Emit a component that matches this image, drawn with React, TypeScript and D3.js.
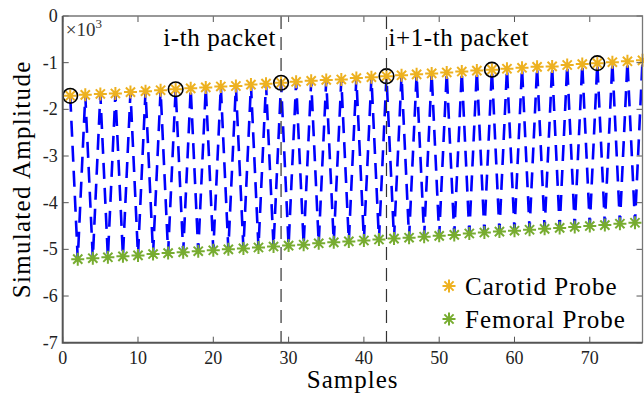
import { useRef, useEffect } from "react";
import * as d3 from "d3";

// carotid probe samples (odd sample numbers 1..77), values in x10^3
const carotid = [
  -1.71, -1.69, -1.67, -1.66, -1.63, -1.61, -1.59, -1.57, -1.55, -1.53,
  -1.51, -1.5, -1.47, -1.45, -1.43, -1.41, -1.39, -1.37, -1.36, -1.33,
  -1.31, -1.29, -1.27, -1.25, -1.23, -1.21, -1.19, -1.17, -1.15, -1.13,
  -1.11, -1.09, -1.08, -1.05, -1.03, -1.01, -0.99, -0.97, -0.95,
];
// femoral probe samples (even sample numbers 2..76)
const femoral = [
  -5.21, -5.19, -5.17, -5.15, -5.13, -5.1, -5.08, -5.06, -5.04, -5.02,
  -5.0, -4.98, -4.96, -4.94, -4.92, -4.9, -4.87, -4.85, -4.83, -4.81,
  -4.79, -4.77, -4.75, -4.73, -4.71, -4.69, -4.66, -4.64, -4.62, -4.6,
  -4.58, -4.56, -4.54, -4.52, -4.5, -4.48, -4.45, -4.43,
];
const carotidSamples = d3.range(1, 78, 2);
const femoralSamples = d3.range(2, 77, 2);
const packetStarts = [1, 15, 29, 43, 57, 71];
const packetLines = [29, 43];
const packetLabels = [
  { text: "i-th packet", sample: 29, anchor: "end" },
  { text: "i+1-th packet", sample: 43, anchor: "start" },
];
const xTicks = [0, 10, 20, 30, 40, 50, 60, 70];
const yTicks = [0, -1, -2, -3, -4, -5, -6, -7];

const W = 644;
const H = 397;
const FONT = "'Liberation Serif', 'Times New Roman', serif";
const ORANGE = "#EDB120";
const GREEN = "#77AC30";
const STAR = "M-6.5,0L6.5,0M0,-6.5L0,6.5M-4.6,-4.6L4.6,4.6M-4.6,4.6L4.6,-4.6";

export default function App() {
  const svgRef = useRef<SVGSVGElement>(null);

  useEffect(() => {
    if (!svgRef.current) return;
    document.body.style.margin = "0";
    const svg = d3.select(svgRef.current);
    svg.selectAll("*").remove();

    const margin = { top: 16, right: 1.5, bottom: 54.3, left: 62.7 };
    const x = d3.scaleLinear().domain([0, 77]).range([margin.left, W - margin.right]);
    const y = d3.scaleLinear().domain([-7, 0]).range([H - margin.bottom, margin.top]);
    const [x0, x1] = x.range();
    const [y0, y1] = y.range();

    svg.append("clipPath").attr("id", "plot-clip")
      .append("rect")
      .attr("x", x0).attr("y", y1)
      .attr("width", x1 - x0).attr("height", y0 - y1);

    // interleaved signal
    const signal = [
      ...carotid.map((v, i) => ({ s: carotidSamples[i], v })),
      ...femoral.map((v, i) => ({ s: femoralSamples[i], v })),
    ].sort((a, b) => a.s - b.s);

    const line = d3.line<{ s: number; v: number }>()
      .x((d) => x(d.s))
      .y((d) => y(d.v));

    svg.append("path")
      .datum(signal)
      .attr("clip-path", "url(#plot-clip)")
      .attr("d", line)
      .attr("fill", "none")
      .attr("stroke", "#0000ff")
      .attr("stroke-width", 2.6)
      .attr("stroke-dasharray", "16,9");

    // markers
    svg.append("g").selectAll("path")
      .data(femoral)
      .join("path")
      .attr("transform", (d, i) => `translate(${x(femoralSamples[i])},${y(d)})`)
      .attr("d", STAR)
      .attr("stroke", GREEN)
      .attr("stroke-width", 2)
      .attr("fill", "none");

    svg.append("g").selectAll("path")
      .data(carotid)
      .join("path")
      .attr("transform", (d, i) => `translate(${x(carotidSamples[i])},${y(d)})`)
      .attr("d", STAR)
      .attr("stroke", ORANGE)
      .attr("stroke-width", 2)
      .attr("fill", "none");

    svg.append("g").selectAll("circle")
      .data(packetStarts)
      .join("circle")
      .attr("cx", (s) => x(s))
      .attr("cy", (s) => y(carotid[carotidSamples.indexOf(s)]))
      .attr("r", 7.3)
      .attr("fill", "none")
      .attr("stroke", "#000")
      .attr("stroke-width", 1.6);

    // packet boundaries
    svg.append("g").selectAll("line")
      .data(packetLines)
      .join("line")
      .attr("x1", (s) => x(s)).attr("x2", (s) => x(s))
      .attr("y1", y1).attr("y2", y0)
      .attr("stroke", "#333")
      .attr("stroke-width", 1.2)
      .attr("stroke-dasharray", "13,8");

    svg.append("g").selectAll("text")
      .data(packetLabels)
      .join("text")
      .attr("x", (d) => x(d.sample) + (d.anchor === "end" ? -5 : 2))
      .attr("y", 46)
      .attr("text-anchor", (d) => d.anchor)
      .attr("font-family", FONT)
      .attr("font-size", 25)
      .attr("letter-spacing", 0.6)
      .attr("fill", "#000")
      .text((d) => d.text);

    // axes box and ticks
    const axisColor = "#555";
    const g = svg.append("g");
    g.selectAll(".xt")
      .data(xTicks)
      .join("g")
      .each(function (t) {
        const sel = d3.select(this);
        sel.append("line").attr("x1", x(t)).attr("x2", x(t)).attr("y1", y0).attr("y2", y0 - 6)
          .attr("stroke", axisColor).attr("stroke-width", 1);
        sel.append("line").attr("x1", x(t)).attr("x2", x(t)).attr("y1", y1).attr("y2", y1 + 6)
          .attr("stroke", axisColor).attr("stroke-width", 1);
        sel.append("text").attr("x", x(t)).attr("y", y0 + 21)
          .attr("text-anchor", "middle").attr("font-family", FONT).attr("font-size", 18)
          .attr("fill", "#222").text(String(t));
      });
    g.selectAll(".yt")
      .data(yTicks)
      .join("g")
      .each(function (t) {
        const sel = d3.select(this);
        sel.append("line").attr("x1", x0).attr("x2", x0 + 6).attr("y1", y(t)).attr("y2", y(t))
          .attr("stroke", axisColor).attr("stroke-width", 1);
        sel.append("line").attr("x1", x1).attr("x2", x1 - 6).attr("y1", y(t)).attr("y2", y(t))
          .attr("stroke", axisColor).attr("stroke-width", 1);
        sel.append("text").attr("x", x0 - 5).attr("y", y(t) + 6)
          .attr("text-anchor", "end").attr("font-family", FONT).attr("font-size", 18)
          .attr("fill", "#222").text(String(t));
      });

    g.append("path")
      .attr("d", `M${x0},${y1}H${x1}V${y0}`)
      .attr("fill", "none").attr("stroke", "#777").attr("stroke-width", 1.3);
    g.append("path")
      .attr("d", `M${x0},${y1}V${y0}H${x1}`)
      .attr("fill", "none").attr("stroke", axisColor).attr("stroke-width", 2);

    // exponent
    const ex = svg.append("text")
      .attr("x", x0 + 3).attr("y", y1 + 20)
      .attr("font-family", FONT).attr("font-size", 19).attr("fill", "#333");
    ex.append("tspan").text("\u00d710");
    ex.append("tspan").attr("dy", -8).attr("font-size", 13).text("3");

    // axis labels
    svg.append("text")
      .attr("x", (x0 + x1) / 2).attr("y", H - 9)
      .attr("text-anchor", "middle").attr("font-family", FONT).attr("font-size", 25)
      .attr("letter-spacing", 1).attr("fill", "#000").text("Samples");
    svg.append("text")
      .attr("transform", `translate(30,${(y0 + y1) / 2}) rotate(-90)`)
      .attr("text-anchor", "middle").attr("font-family", FONT).attr("font-size", 25)
      .attr("letter-spacing", 1.3).attr("fill", "#000").text("Simulated Amplitude");

    // legend
    const legend = [
      { label: "Carotid Probe", color: ORANGE },
      { label: "Femoral Probe", color: GREEN },
    ];
    const lg = svg.append("g").selectAll("g")
      .data(legend)
      .join("g")
      .attr("transform", (_, i) => `translate(449,${286 + i * 33})`);
    lg.append("path").attr("d", STAR).attr("stroke", (d) => d.color)
      .attr("stroke-width", 2).attr("fill", "none");
    lg.append("text").attr("x", 16).attr("y", 9)
      .attr("font-family", FONT).attr("font-size", 25).attr("letter-spacing", 1)
      .attr("fill", "#000").text((d) => d.label);
  }, []);

  return (
    <svg
      ref={svgRef}
      width={W}
      height={H}
      viewBox={`0 0 ${W} ${H}`}
      style={{ display: "block", background: "#fff" }}
    />
  );
}
